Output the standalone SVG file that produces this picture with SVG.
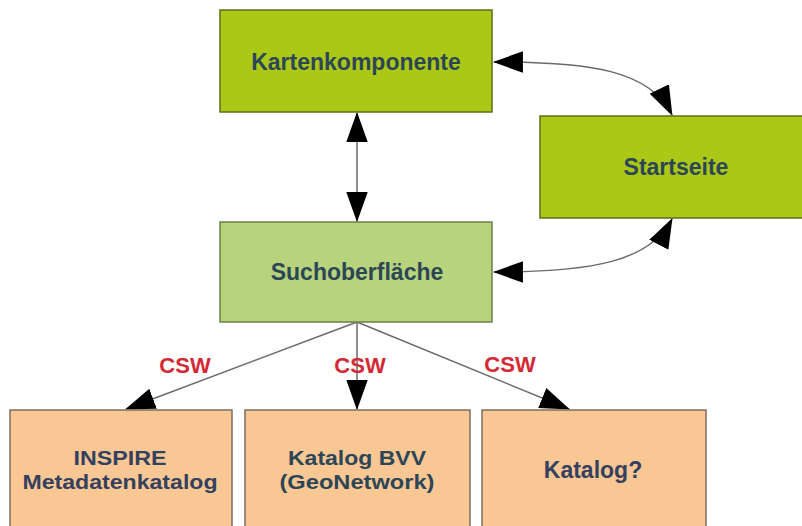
<svg xmlns="http://www.w3.org/2000/svg" width="802" height="526" viewBox="0 0 802 526">
<style>
.box{stroke-width:1.5}
.g1{fill:#abc816;stroke:#5f6d1c}
.g2{fill:#b7d37c;stroke:#6d7e4a}
.p{fill:#f9c794;stroke:#7d6d60}
.t{font-family:"Liberation Sans",Arial,sans-serif;font-weight:bold;font-size:23px;fill:#2c4656;text-anchor:middle}
.s{font-size:21px}
.tb{fill:#34405e}
.csw{font-family:"Liberation Sans",Arial,sans-serif;font-weight:bold;font-size:22px;fill:#d42a35;text-anchor:middle}
.c{fill:none;stroke:#6a6a6a;stroke-width:1.5}
</style>
<defs>
<marker id="ah" markerUnits="userSpaceOnUse" markerWidth="30" markerHeight="22" viewBox="0 0 28 20" refX="27" refY="10" orient="auto-start-reverse">
<path d="M0,0 L28,10 L0,20 z" fill="#000"/>
</marker>
</defs>
<rect width="802" height="526" fill="#fff"/>
<g id="connectors">
<path class="c" d="M357,113 L357,221" marker-start="url(#ah)" marker-end="url(#ah)"/>
<path class="c" d="M494,62 C590,62 650,70 672,115" marker-start="url(#ah)" marker-end="url(#ah)"/>
<path class="c" d="M494,272 C590,272 650,262 672,219" marker-start="url(#ah)" marker-end="url(#ah)"/>
<path class="c" d="M357,322 L126,409" marker-end="url(#ah)"/>
<path class="c" d="M357,322 L357,409" marker-end="url(#ah)"/>
<path class="c" d="M357,322 L569,409" marker-end="url(#ah)"/>
<text class="csw" x="185" y="373">CSW</text>
<text class="csw" x="360" y="373">CSW</text>
<text class="csw" x="510" y="372">CSW</text>
</g>
<g id="kartenkomponente">
<rect class="box g1" x="220" y="10" width="272" height="102"/>
<text class="t" x="356" y="70">Kartenkomponente</text>
</g>
<g id="startseite">
<rect class="box g1" x="540" y="116" width="272" height="102"/>
<text class="t" x="676" y="175">Startseite</text>
</g>
<g id="suchoberflaeche">
<rect class="box g2" x="220" y="222" width="272" height="100"/>
<text class="t" x="357" y="280">Suchoberfläche</text>
</g>
<g id="inspire">
<rect class="box p" x="10" y="410" width="222" height="130"/>
<text class="t s tb" x="120" y="465" textLength="93" lengthAdjust="spacingAndGlyphs">INSPIRE</text>
<text class="t s tb" x="120" y="489" textLength="195" lengthAdjust="spacingAndGlyphs">Metadatenkatalog</text>
</g>
<g id="katalog-bvv">
<rect class="box p" x="245" y="410" width="225" height="130"/>
<text class="t s" x="357" y="465" textLength="138" lengthAdjust="spacingAndGlyphs">Katalog BVV</text>
<text class="t s" x="357" y="489" textLength="155" lengthAdjust="spacingAndGlyphs">(GeoNetwork)</text>
</g>
<g id="katalog">
<rect class="box p" x="482" y="410" width="224" height="130"/>
<text class="t tb" x="593" y="478">Katalog?</text>
</g>
</svg>
